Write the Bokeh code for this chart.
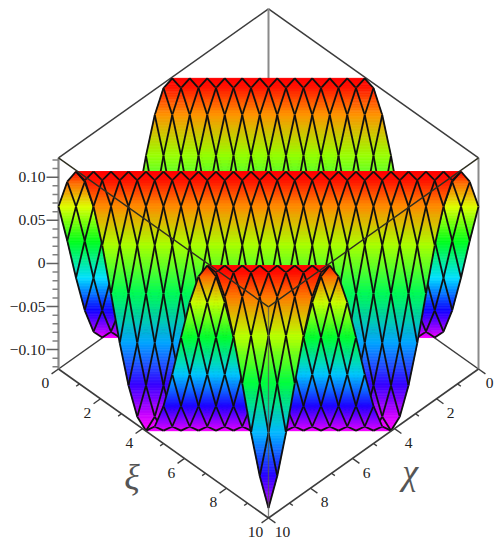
import colorsys
from bokeh.plotting import figure
from bokeh.embed import file_html
from bokeh.resources import INLINE
from bokeh.core.properties import value
from bokeh.models import Range1d

# surface height read per mesh diagonal (xi index + chi index = 0..48, 25x25 mesh over 0..10)
z_levels = [0.000, -0.049, -0.090, -0.116, -0.121, -0.106, -0.073, -0.027, 0.023, 0.070,
            0.104, 0.121, 0.117, 0.093, 0.053, 0.004, -0.046, -0.087, -0.114, -0.122,
            -0.108, -0.076, -0.031, 0.019, 0.066, 0.102, 0.121, 0.118, 0.095, 0.057,
            0.008, -0.042, -0.084, -0.113, -0.122, -0.110, -0.079, -0.035, 0.015, 0.063,
            0.100, 0.120, 0.119, 0.098, 0.060, 0.012, -0.038, -0.081, -0.111]
z_ticks_major = [0.10, 0.05, 0.0, -0.05, -0.10]
z_tick_labels = ["0.10", "0.05", "0", "\u22120.05", "\u22120.10"]
z_ticks_minor = [-0.12, -0.11, -0.09, -0.08, -0.07, -0.06, -0.04, -0.03, -0.02, -0.01,
                 0.01, 0.02, 0.03, 0.04, 0.06, 0.07, 0.08, 0.09, 0.11, 0.12]
floor_ticks = [0, 1, 2, 3, 4, 5, 6, 7, 8, 9, 10]
floor_labels = ["0", "2", "4", "6", "8", "10"]

N = 24
XI_MAX = CHI_MAX = 10.0
Z_MIN, Z_MAX = -0.1225, 0.1225
STEP = XI_MAX / N


def project(xi, chi, z):
    return (268 + 21.0 * (xi - chi), 219.5 + 14.9 * (xi + chi) - (z - Z_MIN) * 862.0)


def hue_rgb(z):
    h = (z_top - z) / (z_top - z_bot) * (300.0 / 360.0)
    return colorsys.hsv_to_rgb(h, 1, 1)


def hexc(c):
    return "#%02x%02x%02x" % tuple(int(round(v * 255)) for v in c)


z_top, z_bot = max(z_levels), min(z_levels)

p = figure(width=501, height=550, output_backend="svg", toolbar_location=None,
           x_range=Range1d(0, 501), y_range=Range1d(550, 0), min_border=0)
p.axis.visible = False
p.grid.visible = False
p.outline_line_color = None
p.background_fill_color = "white"
p.border_fill_color = "white"

BOX_DARK = "#3c3c3c"
BOX_GRAY = "#8a8a8a"


def seg(a, b, color, width, alpha=1.0):
    ax, ay = project(*a)
    bx, by = project(*b)
    p.line([ax, bx], [ay, by], line_color=color, line_width=width, line_alpha=alpha)


# box edges behind the surface
seg((0, 0, Z_MAX), (0, 10, Z_MAX), BOX_DARK, 1.5)
seg((0, 0, Z_MAX), (10, 0, Z_MAX), BOX_DARK, 1.5)
seg((0, 0, Z_MIN), (0, 0, Z_MAX), BOX_GRAY, 2)
seg((0, 10, Z_MIN), (0, 0, Z_MIN), BOX_DARK, 1.5)
seg((10, 0, Z_MIN), (0, 0, Z_MIN), BOX_DARK, 1.5)
seg((0, 10, Z_MIN), (0, 10, Z_MAX), BOX_GRAY, 2.2)
seg((10, 0, Z_MIN), (10, 0, Z_MAX), BOX_GRAY, 2)


def row_ends(k):
    lo = max(0, k - N)
    hi = min(k, N)
    return lo, hi


# surface, strip by strip from the back corner to the front corner
for k in range(len(z_levels) - 1):
    z0, z1 = z_levels[k], z_levels[k + 1]
    lo0, hi0 = row_ends(k)
    lo1, hi1 = row_ends(k + 1)

    def pt(i, row):
        return project(i * STEP, (row - i) * STEP, z_levels[row])

    l0, r0 = pt(lo0, k), pt(hi0, k)
    l1, r1 = pt(lo1, k + 1), pt(hi1, k + 1)
    c0, c1 = hue_rgb(z0), hue_rgb(z1)
    height = abs(l1[1] - l0[1])
    bands = max(1, int(height / 1.5))
    xs, ys, cols = [], [], []
    for b in range(bands):
        t0, t1 = b / bands, (b + 1) / bands
        tm = (t0 + t1) / 2
        col = hexc(tuple(c0[n] + (c1[n] - c0[n]) * tm for n in range(3)))
        lx0 = l0[0] + (l1[0] - l0[0]) * t0
        rx0 = r0[0] + (r1[0] - r0[0]) * t0
        lx1 = l0[0] + (l1[0] - l0[0]) * t1
        rx1 = r0[0] + (r1[0] - r0[0]) * t1
        y0 = l0[1] + (l1[1] - l0[1]) * t0
        y1 = l0[1] + (l1[1] - l0[1]) * t1
        xs.append([lx0, rx0, rx1, lx1])
        ys.append([y0, y0, y1, y1])
        cols.append(col)
    p.patches(xs, ys, fill_color=cols, line_color=cols, line_width=0.7)

    mx, my = [], []
    for i in range(lo0, hi0 + 1):
        j = k - i
        a = pt(i, k)
        if i + 1 <= N:
            b_ = pt(i + 1, k + 1)
            mx.append([a[0], b_[0]])
            my.append([a[1], b_[1]])
        if j + 1 <= N:
            b_ = pt(i, k + 1)
            mx.append([a[0], b_[0]])
            my.append([a[1], b_[1]])
    p.multi_line(mx, my, line_color="#101010", line_width=1.8)

# box edges in front of the surface
seg((10, 10, Z_MAX), (0, 10, Z_MAX), "#2e2e20", 1.4)
seg((10, 10, Z_MAX), (10, 0, Z_MAX), "#2e2e20", 1.4)
seg((10, 10, Z_MAX), (10, 10, Z_MIN), "#555555", 1.3, 0.75)
seg((0, 10, Z_MIN), (10, 10, Z_MIN), BOX_DARK, 1.6)
seg((10, 0, Z_MIN), (10, 10, Z_MIN), BOX_DARK, 1.6)

# height axis ticks
ax_x, _ = project(0, 10, 0)
for z in z_ticks_major:
    _, y = project(0, 10, z)
    p.line([ax_x - 12, ax_x], [y, y], line_color="#606060", line_width=1.5)
for z in z_ticks_minor:
    _, y = project(0, 10, z)
    p.line([ax_x - 6, ax_x], [y, y], line_color="#808080", line_width=1.5)
p.text([ax_x - 13] * len(z_ticks_major), [project(0, 10, z)[1] for z in z_ticks_major],
       text=z_tick_labels, text_font=value("Liberation Serif"), text_font_size="15.5px",
       text_align="right", text_baseline="middle", text_color="#222222")

# floor axis ticks
for t in floor_ticks:
    size = 0.33 if t % 2 == 0 else 0.16
    seg((t, 10, Z_MIN), (t, 10 + size, Z_MIN), BOX_DARK, 1.4)
    seg((10, t, Z_MIN), (10 + size, t, Z_MIN), BOX_DARK, 1.4)

xi_pos = [project(int(s), 10 + 0.62, Z_MIN) for s in floor_labels]
chi_pos = [project(10 + 0.62, int(s), Z_MIN) for s in floor_labels]
p.text([q[0] for q in xi_pos], [q[1] + 5 for q in xi_pos], text=floor_labels,
       text_font=value("Liberation Serif"), text_font_size="15.5px",
       text_align="center", text_baseline="middle", text_color="#222222")
p.text([q[0] + 1 for q in chi_pos[1:]] + [chi_pos[0][0] - 2], [q[1] + 5 for q in chi_pos[1:]] + [chi_pos[0][1] + 5],
       text=floor_labels[1:] + floor_labels[:1],
       text_font=value("Liberation Serif"), text_font_size="15.5px",
       text_align="center", text_baseline="middle", text_color="#222222")

# axis titles
xt, yt = project(5.5, 12.0, Z_MIN)
p.text([xt], [yt - 4], text=["\u03be"],
       text_font=value("Liberation Serif"), text_font_style="italic", text_font_size="36px",
       text_align="center", text_baseline="middle", text_color="#555555")
xt, yt = project(12.05, 5.3, Z_MIN)
p.text([xt], [yt - 7], text=["\u03c7"],
       text_font=value("Liberation Serif"), text_font_style="italic", text_font_size="36px",
       text_align="center", text_baseline="middle", text_color="#555555")

open("out.html", "w").write(file_html(p, INLINE))
